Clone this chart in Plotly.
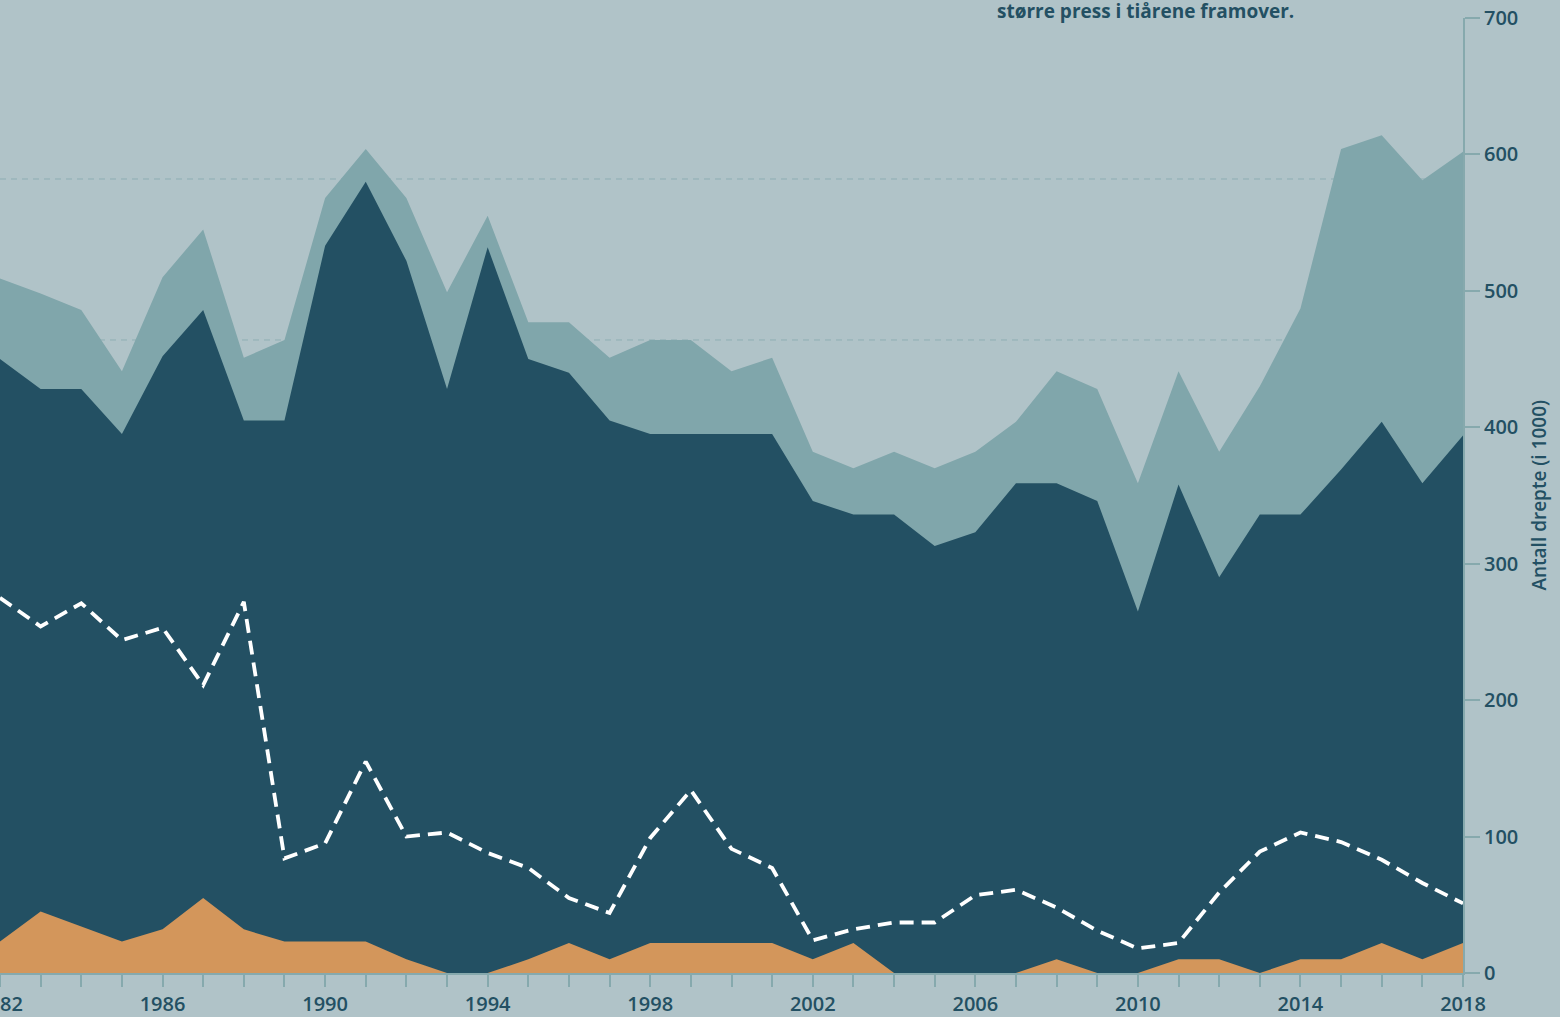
import plotly.graph_objects as go

years = list(range(1982, 2019))

total_top = [509, 498, 486, 441, 510, 545, 451, 464, 568, 604, 568, 499, 555,
             477, 477, 451, 464, 464, 441, 451, 382, 370, 382, 370, 382, 404,
             441, 428, 359, 441, 382, 430, 487, 604, 614, 581, 602]

navy_top = [450, 428, 428, 395, 452, 486, 405, 405, 533, 580, 522, 428, 532,
            450, 440, 405, 395, 395, 395, 395, 346, 336, 336, 313, 323, 359,
            359, 346, 265, 358, 290, 336, 336, 369, 404, 359, 394]

orange_vals = [23, 45, 34, 23, 32, 55, 32, 23, 23, 23, 10, 0, 0,
               10, 22, 10, 22, 22, 22, 22, 10, 22, 0, 0, 0, 0,
               10, 0, 0, 10, 10, 0, 10, 10, 22, 10, 22]

dashed_vals = [275, 254, 271, 244, 253, 211, 272, 84, 95, 155, 100, 103, 88,
               77, 55, 44, 99, 134, 91, 77, 24, 32, 37, 37, 57, 61,
               48, 31, 18, 22, 59, 89, 103, 96, 83, 66, 51]

ref_lines = [464, 582]
y_ticks = list(range(0, 701, 100))
x_label_years = list(range(1982, 2019, 4))

BG = "#b0c3c8"
TEAL = "#80a6ab"
NAVY = "#235063"
ORANGE = "#d3965b"
AXIS = "#86a9ad"
TEXT = "#235063"

fig = go.Figure()
fig.add_trace(go.Scatter(x=years, y=total_top, mode="lines", fill="tozeroy",
                         line=dict(width=0, color=TEAL), fillcolor=TEAL,
                         hoverinfo="skip", showlegend=False))
fig.add_trace(go.Scatter(x=years, y=navy_top, mode="lines", fill="tozeroy",
                         line=dict(width=0, color=NAVY), fillcolor=NAVY,
                         hoverinfo="skip", showlegend=False))
fig.add_trace(go.Scatter(x=years, y=orange_vals, mode="lines", fill="tozeroy",
                         line=dict(width=0, color=ORANGE), fillcolor=ORANGE,
                         hoverinfo="skip", showlegend=False))
fig.add_trace(go.Scatter(x=years, y=dashed_vals, mode="lines",
                         line=dict(width=3.8, color="white", dash="14px,8px"),
                         hoverinfo="skip", showlegend=False))

for v in ref_lines:
    fig.add_shape(type="line", xref="paper", x0=0, x1=1, yref="y", y0=v, y1=v,
                  line=dict(color="#8eaeb3", width=1, dash="6px,5px"), layer="below")

fig.add_annotation(text="Antall drepte (i 1000)", xref="paper", yref="paper",
                   x=1.0513, y=0.5, textangle=-90, showarrow=False,
                   xanchor="center", yanchor="middle",
                   font=dict(family="Open Sans", size=19, color=TEXT, weight=600))
fig.add_annotation(text="større press i tiårene framover.", xref="paper", yref="paper",
                   x=0.680, y=1.0073, showarrow=False, xanchor="left", yanchor="middle",
                   font=dict(family="Open Sans", size=19, color=TEXT, weight=700))

fig.update_layout(
    width=1560, height=1017,
    margin=dict(l=0, r=97, t=18, b=44, pad=0, autoexpand=False),
    paper_bgcolor=BG, plot_bgcolor=BG,
    xaxis=dict(range=[1982, 2018], tickmode="array", tickvals=x_label_years,
               ticktext=[str(y) for y in x_label_years], ticklabeloverflow="allow",
               automargin=False,
               showgrid=False, zeroline=False, showline=True, linecolor=AXIS, linewidth=2,
               ticks="outside", ticklen=12, tickwidth=2, tickcolor=AXIS,
               tickfont=dict(family="Open Sans", size=20, color=TEXT, weight=600),
               minor=dict(tickvals=years, ticks="outside", ticklen=12, tickwidth=2,
                          tickcolor=AXIS, showgrid=False)),
    yaxis=dict(range=[0, 700], side="right", tickmode="array", tickvals=y_ticks,
               automargin=False,
               showgrid=False, zeroline=False, showline=True, linecolor=AXIS, linewidth=2,
               ticks="outside", ticklen=15, tickwidth=2, tickcolor=AXIS,
               tickfont=dict(family="Open Sans", size=20, color=TEXT, weight=600)),
)

fig.write_html("out.html", config={"displayModeBar": False},
               post_script="document.body.style.margin='0px';document.body.style.background='" + BG + "';")
